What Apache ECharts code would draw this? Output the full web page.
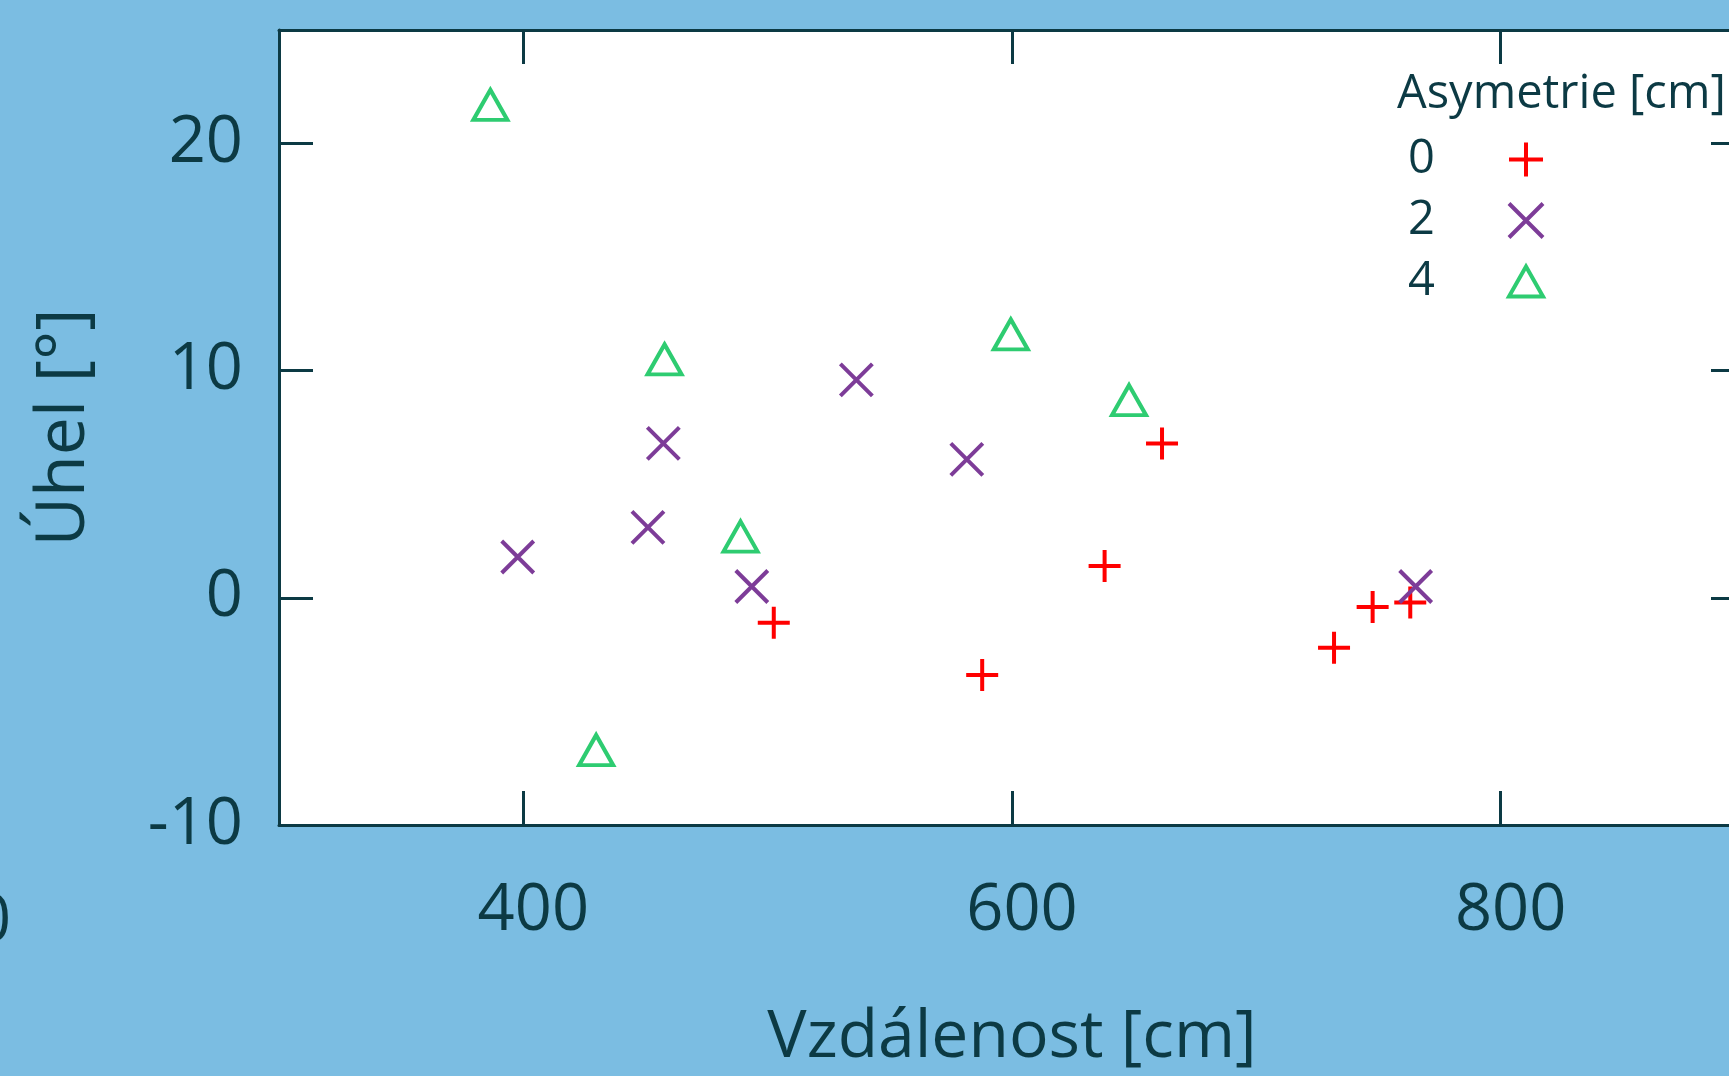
<!DOCTYPE html>
<html><head><meta charset="utf-8">
<script src="https://cdn.jsdelivr.net/npm/echarts@6/dist/echarts.min.js"></script>
<style>html,body{margin:0;padding:0;background:#7bbde2;overflow:hidden;width:1729px;height:1076px;}#c{width:1770px;height:1076px;}</style>
</head><body><div id="c"></div>
<script>
// ---- data ----
const xTicks = [400, 600, 800];
const yTicks = [-10, 0, 10, 20];
const seriesNames = ['0', '2', '4'];
const asym0 = [[502.5,-1.1],[587.8,-3.4],[637.9,1.4],[661.4,6.8],[731.8,-2.2],[747.6,-0.4],[763,-0.2]];
const asym2 = [[397.7,1.8],[451,3.1],[457.3,6.8],[493.5,0.5],[536.3,9.6],[581.5,6.1],[765.2,0.5]];
const asym4 = [[386.5,21.7],[429.8,-6.7],[457.8,10.5],[488.9,2.7],[599.5,11.6],[647.9,8.7]];
const xTitle = 'Vzdálenost [cm]';
const yTitle = 'Úhel [°]';
const legendTitle = 'Asymetrie [cm]';

const dark = '#0c3a44';
const font = '"Open Sans", "DejaVu Sans", sans-serif';
const colors = ['#ff0000', '#7d3c98', '#2ecc71'];
const symbols = ['path://M0,16L32,16M16,0L16,32', 'path://M0,0L32,32M32,0L0,32', 'path://M17,0L34,30L0,30Z'];
const symSizes = [32, 32, [34, 30]];
const lw = [4, 4, 4];
const dataSets = [asym0, asym2, asym4];

const chart = echarts.init(document.getElementById('c'), null, {renderer: 'canvas'});
const axisLineStyle = {color: dark, width: 3};
const tickStyle = {color: dark, width: 3};
chart.setOption({
  backgroundColor: '#7bbde2',
  animation: false,
  title: {text: legendTitle, left: 1392, top: 66, textStyle: {color: dark, fontSize: 47, fontWeight: 'normal', fontFamily: font}},
  grid: {left: 279, top: 30, width: 1466, height: 799, show: true, backgroundColor: '#ffffff', borderWidth: 0},
  xAxis: [
    {type: 'value', min: 300, max: 900, position: 'bottom',
     name: xTitle, nameLocation: 'middle', nameGap: 180,
     nameTextStyle: {color: dark, fontSize: 66, fontFamily: font},
     axisLine: {show: true, onZero: false, lineStyle: axisLineStyle},
     axisTick: {show: true, inside: true, length: 34, lineStyle: tickStyle, customValues: xTicks},
     axisLabel: {color: dark, fontSize: 65, fontFamily: font, margin: 54, padding: [0, 0, 0, 20], customValues: xTicks},
     splitLine: {show: false}},
    {type: 'value', min: 300, max: 900, position: 'top',
     axisLine: {show: true, onZero: false, lineStyle: axisLineStyle},
     axisTick: {show: true, inside: true, length: 34, lineStyle: tickStyle, customValues: xTicks},
     axisLabel: {show: false}, splitLine: {show: false}}
  ],
  yAxis: [
    {type: 'value', min: -10, max: 25, position: 'left',
     name: yTitle, nameLocation: 'middle', nameGap: 180,
     nameTextStyle: {color: dark, fontSize: 68, fontFamily: font},
     axisLine: {show: true, onZero: false, lineStyle: axisLineStyle},
     axisTick: {show: true, inside: true, length: 34, lineStyle: tickStyle, customValues: yTicks},
     axisLabel: {color: dark, fontSize: 65, fontFamily: font, margin: 36, customValues: yTicks},
     splitLine: {show: false}},
    {type: 'value', min: -10, max: 25, position: 'right',
     axisLine: {show: true, onZero: false, lineStyle: axisLineStyle},
     axisTick: {show: true, inside: true, length: 34, lineStyle: tickStyle, customValues: yTicks},
     axisLabel: {show: false}, splitLine: {show: false}}
  ],
  legend: {
    orient: 'vertical', left: 1403, top: 131, align: 'right',
    itemWidth: 34, itemHeight: 34, itemGap: 14, selectedMode: false,
    formatter: n => '{a|' + n + '}',
    textStyle: {color: dark, fontSize: 47, fontFamily: font,
      rich: {a: {width: 96, align: 'left', fontSize: 47, lineHeight: 34, color: dark, fontFamily: font}}},
    data: seriesNames.map((n, i) => ({name: n, itemStyle: {color: 'rgba(0,0,0,0)', borderColor: colors[i], borderWidth: lw[i]}}))
  },
  graphic: [{type: 'text', left: -26, top: 890, style: {text: '0', fill: dark, font: '65px ' + font}}],
  series: dataSets.map((d, i) => ({
    type: 'scatter', name: seriesNames[i], data: d,
    symbol: symbols[i], symbolSize: symSizes[i],
    itemStyle: {color: 'rgba(0,0,0,0)', borderColor: colors[i], borderWidth: lw[i], opacity: 1},
    emphasis: {disabled: true}
  }))
});
</script></body></html>
